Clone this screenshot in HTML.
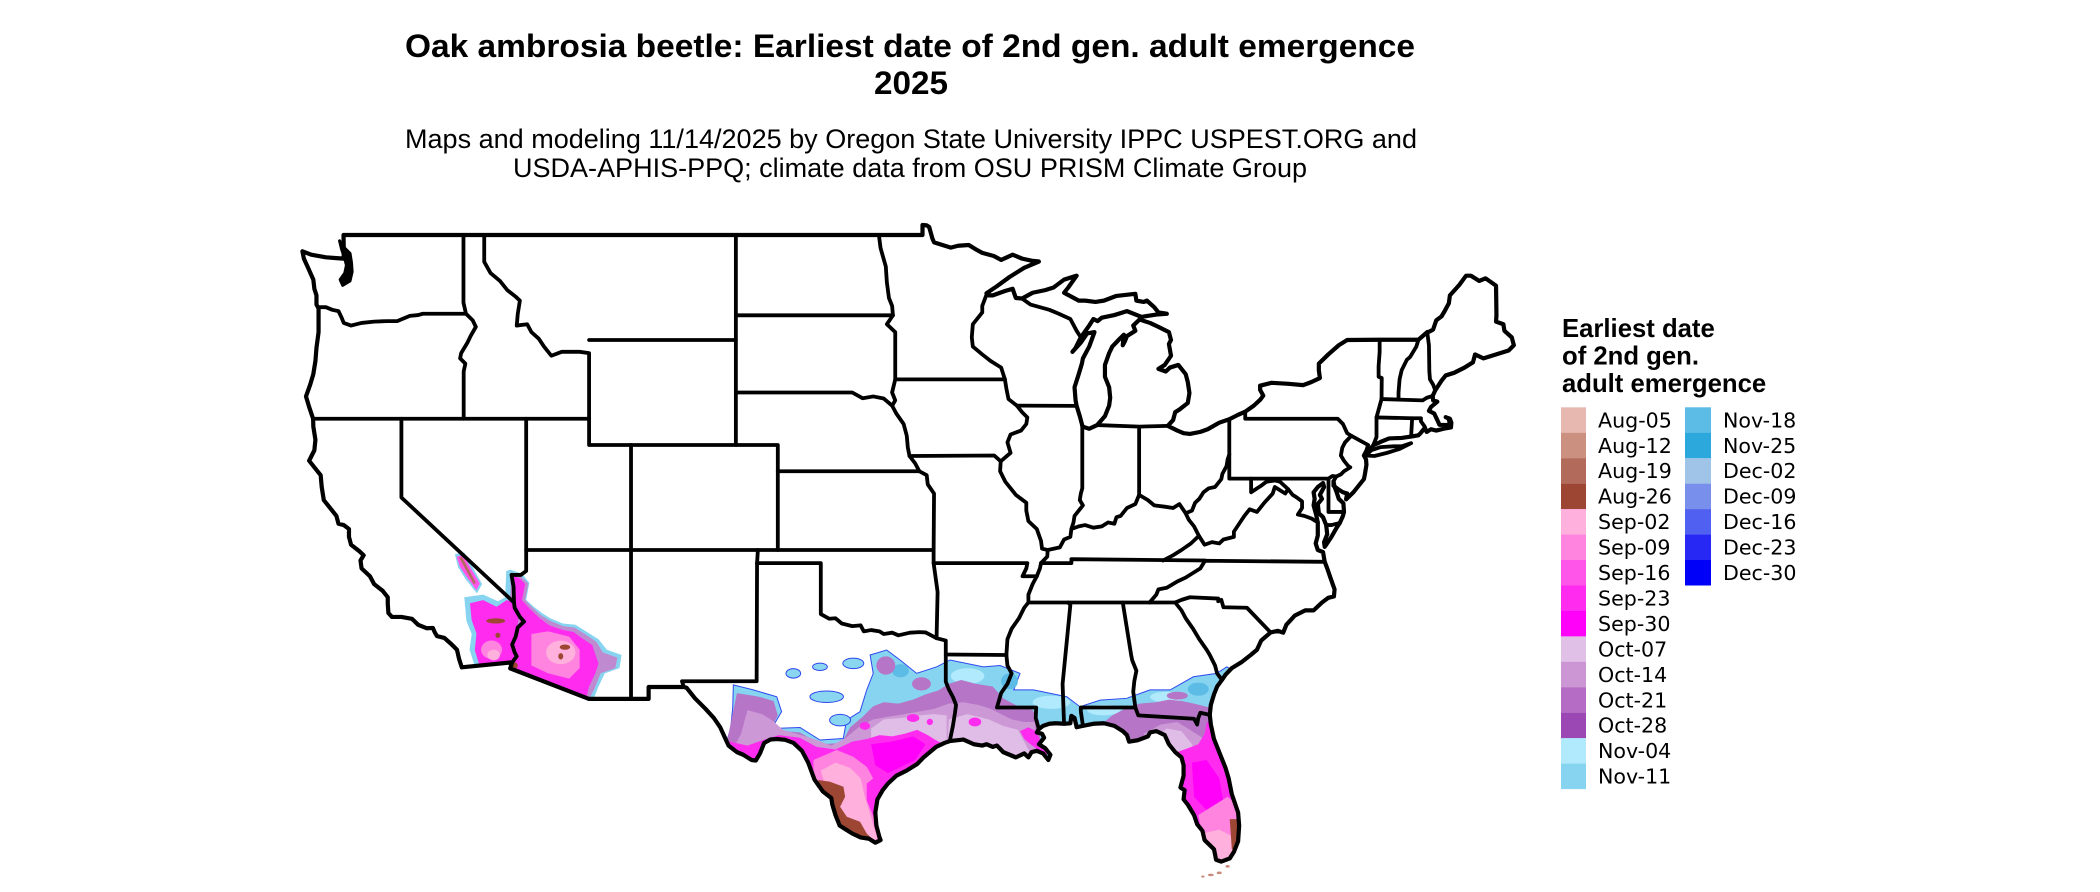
<!DOCTYPE html>
<html><head><meta charset="utf-8"><style>
html,body{margin:0;padding:0;background:#fff;width:2100px;height:892px;overflow:hidden}
svg{display:block}
.t{font-family:"Liberation Sans",Arial,sans-serif;fill:#000}
.lg{font-family:"DejaVu Sans","Liberation Sans",sans-serif;font-size:20.6px;fill:#000}
.b{fill:none;stroke:#000;stroke-width:3.8;stroke-linejoin:round;stroke-linecap:round}
</style></head><body>
<svg width="2100" height="892" viewBox="0 0 2100 892" xmlns="http://www.w3.org/2000/svg">
<rect width="2100" height="892" fill="#fff"/>
<text class="t" x="405" y="57" font-size="32" font-weight="bold" textLength="1010" lengthAdjust="spacingAndGlyphs">Oak ambrosia beetle: Earliest date of 2nd gen. adult emergence</text>
<text class="t" x="874" y="94" font-size="32" font-weight="bold" textLength="74" lengthAdjust="spacingAndGlyphs">2025</text>
<text class="t" x="405" y="148" font-size="27" textLength="1012" lengthAdjust="spacingAndGlyphs">Maps and modeling 11/14/2025 by Oregon State University IPPC USPEST.ORG and</text>
<text class="t" x="513" y="177" font-size="27" textLength="794" lengthAdjust="spacingAndGlyphs">USDA-APHIS-PPQ; climate data from OSU PRISM Climate Group</text>

<defs>
<path id="o" vector-effect="non-scaling-stroke" d="M-122.76,49 L-95.15,49 -95.15,49.38 -94.95,49.37 -94.83,49.3 -94.68,48.87 -94.6,48.72 -93.8,48.52 -93.45,48.59 -92.95,48.62 -92.6,48.45 -92.3,48.32 -91.75,48.2 -91.4,48.05 -90.85,48.25 -90.4,48.1 -89.95,48.02 -89.6,47.99 -90.3,47.75 -91.0,47.4 -91.6,47.05 -92.1,46.78 -92.0,46.7 -91.8,46.7 -91.2,46.87 -90.85,46.95 -90.7,46.6 -90.4,46.58 -89.9,46.8 -89.3,46.9 -88.9,47.0 -88.4,47.3 -87.8,47.45 -88.2,47.0 -88.4,46.8 -87.7,46.5 -87.4,46.5 -86.9,46.45 -86.5,46.5 -85.9,46.68 -85.0,46.76 -84.95,46.5 -84.6,46.45 -84.45,46.5 -84.1,46.25 -83.9,46.05 -83.5,46.0 -84.0,45.97 -84.7,45.88 -85.4,46.1 -86.0,45.95 -86.6,45.85 -86.8,45.72 -87.0,45.8 -87.2,45.55 -87.6,45.1 -87.85,44.7 -88.0,44.55 -87.6,44.9 -87.3,45.25 -86.95,45.3 -87.2,44.75 -87.5,44.3 -87.55,44.1 -87.7,43.7 -87.9,43.2 -87.85,42.7 -87.8,42.49 -87.65,42.1 -87.55,41.8 -87.52,41.7 -87.2,41.62 -86.82,41.76 -86.45,42.1 -86.25,42.5 -86.2,42.8 -86.25,43.2 -86.45,43.6 -86.45,44.05 -86.25,44.5 -86.1,44.75 -85.8,45.0 -85.55,45.2 -85.6,44.8 -85.5,44.95 -85.4,45.15 -85.0,45.35 -85.1,45.55 -84.8,45.78 -84.3,45.65 -83.9,45.5 -83.4,45.3 -83.3,45.0 -83.4,44.85 -83.3,44.4 -83.6,44.05 -83.9,43.9 -83.55,43.8 -83.35,43.95 -82.95,44.05 -82.6,43.7 -82.5,43.4 -82.42,42.98 -82.5,42.6 -82.9,42.35 -83.1,42.25 -83.2,41.95 -83.45,41.73 -83.0,41.55 -82.7,41.45 -82.4,41.42 -81.9,41.5 -81.55,41.6 -81.0,41.85 -80.52,41.98 -80.1,42.15 -79.76,42.27 -79.35,42.5 -79.05,42.72 -78.9,42.88 -79.05,43.1 -79.05,43.26 -78.5,43.37 -77.7,43.33 -77.0,43.28 -76.6,43.4 -76.2,43.55 -76.25,43.85 -76.25,44.1 -75.8,44.45 -75.3,44.8 -74.9,45.0 -73.35,45.01 -71.5,45.01 -71.08,45.3 -70.95,45.33 -70.8,45.4 -70.65,45.75 -70.4,45.9 -70.25,46.1 -70.05,46.4 -70.0,46.7 -69.55,47.1 -69.23,47.45 -69.0,47.45 -68.6,47.25 -68.3,47.35 -67.8,47.07 -67.78,45.95 -67.8,45.7 -67.45,45.6 -67.4,45.35 -67.05,45.1 -66.95,44.8 -67.2,44.6 -67.6,44.5 -68.0,44.4 -68.4,44.3 -68.8,44.45 -68.9,44.15 -69.3,43.95 -69.8,43.75 -70.2,43.65 -70.4,43.45 -70.7,43.08 -70.82,42.87 -70.8,42.7 -70.6,42.65 -70.9,42.45 -71.0,42.3 -70.75,42.2 -70.6,41.95 -70.5,41.77 -70.0,41.76 -70.05,42.0 -70.2,42.06 -70.0,42.0 -69.93,41.85 -69.95,41.67 -70.3,41.62 -70.65,41.55 -70.9,41.6 -71.1,41.5 -71.2,41.65 -71.4,41.45 -71.5,41.37 -71.85,41.32 -72.3,41.27 -72.9,41.25 -73.3,41.12 -73.65,40.99 -73.8,40.85 -74.0,40.75 -74.1,40.6 -74.0,40.45 -73.98,40.25 -74.05,39.9 -74.1,39.7 -74.4,39.4 -74.6,39.2 -74.95,38.93 -74.9,39.15 -75.1,39.2 -75.3,39.3 -75.55,39.45 -75.55,39.62 -75.5,39.4 -75.4,39.2 -75.3,38.95 -75.08,38.78 -75.05,38.45 -75.1,38.3 -75.25,38.03 -75.4,37.85 -75.65,37.5 -75.9,37.2 -75.97,37.12 -76.0,37.3 -75.85,37.6 -75.9,37.95 -76.05,38.25 -76.25,38.4 -76.3,38.75 -76.1,38.95 -76.2,39.1 -76.0,39.4 -76.05,39.55 -76.3,39.4 -76.5,39.2 -76.45,38.95 -76.5,38.7 -76.38,38.35 -76.3,38.05 -76.3,37.85 -76.3,37.55 -76.4,37.25 -76.3,37.0 -76.05,36.92 -75.97,36.55 -75.85,36.3 -75.7,35.95 -75.5,35.5 -75.53,35.23 -75.8,35.18 -76.1,35.0 -76.5,34.7 -76.9,34.7 -77.4,34.5 -77.8,34.15 -77.95,33.85 -78.2,33.92 -78.55,33.86 -79.0,33.55 -79.2,33.2 -79.5,33.0 -79.95,32.72 -80.4,32.5 -80.7,32.25 -80.87,32.05 -81.1,31.8 -81.25,31.5 -81.4,31.1 -81.45,30.72 -81.4,30.35 -81.25,29.8 -81.0,29.3 -80.7,28.7 -80.55,28.3 -80.4,27.7 -80.1,27.0 -80.05,26.5 -80.1,25.9 -80.3,25.5 -80.5,25.25 -80.9,25.13 -81.15,25.2 -81.25,25.6 -81.7,25.95 -81.8,26.3 -82.05,26.55 -82.2,26.9 -82.5,27.3 -82.7,27.5 -82.65,27.85 -82.85,27.95 -82.7,28.4 -82.7,28.8 -82.8,29.1 -83.1,29.3 -83.4,29.6 -83.6,29.95 -84.0,30.1 -84.3,30.05 -84.4,29.9 -84.9,29.75 -85.3,29.7 -85.4,29.95 -85.6,30.1 -86.0,30.3 -86.5,30.4 -87.0,30.38 -87.5,30.3 -87.8,30.25 -87.9,30.6 -88.05,30.68 -88.1,30.4 -88.4,30.38 -88.8,30.4 -89.1,30.38 -89.4,30.3 -89.6,30.18 -89.7,30.05 -89.45,30.0 -89.35,29.85 -89.6,29.6 -89.3,29.45 -89.05,29.2 -89.15,29.0 -89.4,29.25 -89.7,29.35 -89.95,29.3 -90.1,29.1 -90.3,29.25 -90.7,29.1 -91.0,29.2 -91.3,29.3 -91.6,29.55 -91.8,29.5 -92.1,29.6 -92.3,29.55 -92.7,29.6 -93.2,29.78 -93.85,29.72 -94.1,29.65 -94.5,29.5 -94.8,29.3 -95.1,29.1 -95.4,28.85 -95.9,28.6 -96.4,28.4 -96.8,28.1 -97.05,27.85 -97.3,27.5 -97.4,27.0 -97.35,26.5 -97.2,26.05 -97.15,25.95 -97.4,25.85 -97.7,26.0 -98.1,26.05 -98.5,26.2 -98.8,26.35 -99.1,26.5 -99.3,26.9 -99.45,27.3 -99.5,27.55 -99.9,27.8 -100.3,28.25 -100.6,28.9 -100.9,29.35 -101.3,29.65 -101.7,29.77 -102.1,29.8 -102.4,29.78 -102.7,29.65 -102.9,29.25 -103.1,28.98 -103.3,29.0 -103.7,29.2 -104.0,29.3 -104.4,29.55 -104.6,29.9 -104.8,30.25 -105.1,30.6 -105.5,30.95 -106.0,31.35 -106.4,31.75 -106.53,31.78 -108.21,31.78 -108.21,31.33 -111.07,31.33 -114.81,32.49 -114.72,32.72 -117.12,32.53 -117.25,32.85 -117.35,33.2 -117.6,33.4 -117.95,33.65 -118.3,33.72 -118.4,33.85 -118.5,34.03 -118.8,34.02 -119.2,34.15 -119.5,34.38 -120.0,34.45 -120.45,34.45 -120.62,34.6 -120.65,34.95 -120.65,35.2 -120.9,35.45 -121.3,35.7 -121.5,36.0 -121.9,36.3 -121.95,36.6 -121.8,36.8 -122.0,36.95 -122.4,37.2 -122.5,37.5 -122.5,37.8 -122.75,37.95 -123.0,38.0 -123.1,38.3 -123.7,38.9 -123.8,39.4 -123.85,39.85 -124.1,40.1 -124.4,40.4 -124.15,40.8 -124.1,41.2 -124.2,41.7 -124.21,42.0 -124.4,42.45 -124.55,42.85 -124.35,43.3 -124.2,43.7 -124.1,44.2 -124.05,44.7 -123.95,45.3 -123.95,45.7 -123.95,46.2 -124.05,46.35 -124.05,46.7 -124.15,46.95 -124.2,47.3 -124.45,47.75 -124.65,48.1 -124.72,48.38 -124.3,48.25 -123.6,48.15 -123.1,48.12 -122.75,48.1 -122.75,48.5 Z"/>
<clipPath id="us"><use href="#o"/></clipPath>
</defs>

<g transform="matrix(20.97 0 0 -26.25 2917.8 1521.25)">
<g clip-path="url(#us)">
<!-- cyan fringe -->
<polygon fill="#86d4f0" stroke="#2f48f0" stroke-width="1" vector-effect="non-scaling-stroke" points="-104.6,29.4 -104.3,30.2 -104.2,31.0 -104.17,31.86 -103.22,31.67 -102.1,31.41 -101.87,30.84 -102.34,30.2 -100.99,30.24 -100.04,29.76 -98.93,29.82 -98.77,30.52 -98.13,30.84 -97.81,31.67 -97.5,32.3 -97.65,33.0 -96.86,33.19 -96.22,32.81 -95.43,32.3 -94.47,32.55 -93.84,32.81 -92.25,32.55 -91.45,32.6 -90.5,32.3 -90.8,31.67 -89.86,31.67 -88.27,31.41 -87.64,31.03 -86.68,31.28 -85.41,31.35 -84.3,31.67 -83.34,31.67 -82.23,32.17 -81.12,32.3 -80.64,32.55 -79.5,32 -79.5,24 -98,24 -105,28.5"/>
<g fill="#8ad6f0">
<ellipse cx="-101.31" cy="32.3" rx="0.35" ry="0.18" stroke="#2f48f0" stroke-width="1" vector-effect="non-scaling-stroke"/>
<ellipse cx="-100.04" cy="32.55" rx="0.35" ry="0.14" stroke="#2f48f0" stroke-width="1" vector-effect="non-scaling-stroke"/>
<ellipse cx="-98.45" cy="32.68" rx="0.5" ry="0.2" stroke="#2f48f0" stroke-width="1" vector-effect="non-scaling-stroke"/>
<ellipse cx="-99.72" cy="31.41" rx="0.8" ry="0.22" stroke="#2f48f0" stroke-width="1" vector-effect="non-scaling-stroke"/>
<ellipse cx="-99.08" cy="30.52" rx="0.5" ry="0.22" stroke="#2f48f0" stroke-width="1" vector-effect="non-scaling-stroke"/>
</g>
<g fill="#b0eafc">
<ellipse cx="-93.0" cy="32.2" rx="0.8" ry="0.3"/>
<ellipse cx="-89.0" cy="31.2" rx="0.9" ry="0.25"/>
<ellipse cx="-86.5" cy="30.9" rx="0.8" ry="0.2"/>
<ellipse cx="-83.5" cy="31.4" rx="0.8" ry="0.2"/>
</g>
<g fill="#5cbce6">
<ellipse cx="-91.0" cy="32.0" rx="0.4" ry="0.3"/>
<ellipse cx="-82.0" cy="31.7" rx="0.5" ry="0.25"/>
<ellipse cx="-96.2" cy="32.4" rx="0.4" ry="0.25"/>
</g>
<!-- purple -->
<g fill="#b675c6">
<polygon points="-104.8,28.5 -104.4,30.0 -104.0,31.55 -103.0,31.42 -102.25,31.25 -102.05,30.7 -102.4,30.15 -101.0,30.05 -100.0,29.6 -99.0,29.65 -98.6,30.25 -98.0,30.65 -97.5,31.05 -97.0,31.2 -96.3,31.15 -95.6,31.3 -95.0,31.5 -94.4,31.65 -93.9,31.9 -93.3,32.05 -92.6,31.9 -91.8,31.8 -91.3,31.35 -90.6,31.05 -89.9,30.9 -89.6,30.5 -89.4,28.5"/>
<polygon points="-86.7,30.3 -86.1,30.7 -85.5,30.95 -84.8,31.15 -84.0,31.2 -83.4,31.3 -82.8,31.25 -82.2,31.15 -81.7,31.05 -81.2,30.95 -80.5,30.5 -80.5,27 -84,27 -85.5,29.5"/>
<ellipse cx="-96.9" cy="32.6" rx="0.45" ry="0.35"/>
<ellipse cx="-95.2" cy="31.9" rx="0.45" ry="0.25"/>
<ellipse cx="-83.0" cy="31.45" rx="0.5" ry="0.15"/>
</g>
<!-- lavender -->
<g fill="#cc98d6">
<polygon points="-104.8,28.5 -103.8,30.0 -103.5,30.9 -102.8,30.75 -102.3,30.5 -101.8,30.15 -100.5,29.85 -99.5,29.55 -98.8,29.85 -98.2,30.25 -97.5,30.55 -96.8,30.65 -96.0,30.75 -95.3,30.85 -94.6,30.95 -93.9,31.15 -93.2,31.2 -92.5,31.1 -91.9,30.95 -91.4,30.75 -90.9,30.55 -90.3,30.45 -89.8,30.45 -89.5,28.5"/>
<polygon points="-84.6,30.0 -83.8,30.35 -83.0,30.45 -82.3,30.1 -81.8,29.85 -81.0,29.6 -80.5,27 -84,27"/>
</g>
<g fill="#dfbde6">
<polygon points="-94.0,28.5 -93.9,30.55 -93.0,30.75 -92.0,30.55 -91.3,30.3 -90.6,30.15 -89.5,28.5"/>
<polygon points="-97.6,30.2 -97.0,30.55 -96.2,30.6 -95.3,30.7 -94.6,30.75 -94.0,30.7 -94.0,29.5 -97.6,29.5"/>
<polygon points="-84.2,29.8 -83.5,30.2 -82.8,30.1 -82.3,29.6 -82.0,28.9 -82.8,28.5"/>
</g>
<!-- magenta -->
<g fill="#ff2cf0">
<polygon points="-104.8,28.5 -104.6,29.75 -103.5,29.55 -102.8,29.75 -102.0,29.95 -101.0,29.85 -100.2,29.5 -99.3,29.4 -98.5,29.7 -97.8,29.8 -97.2,29.95 -96.6,29.9 -96.0,30.0 -95.4,30.15 -94.9,29.95 -94.5,29.75 -94.0,29.55 -94.0,27 -100,25"/>
<polygon points="-83.0,29.3 -82.5,29.45 -82.0,29.6 -81.7,30.0 -81.6,30.4 -81.35,30.65 -80.0,30.5 -79.5,25 -82.5,24.9 -83.5,28.0"/>
<ellipse cx="-92.65" cy="30.45" rx="0.3" ry="0.17"/>
<polygon points="-90.5,30.1 -90.1,30.25 -89.75,30.1 -89.5,29.7 -89.2,29.2 -89.5,29.3 -90.0,29.6 -90.3,29.8"/>
<ellipse cx="-95.6" cy="30.6" rx="0.3" ry="0.15"/>
<ellipse cx="-94.8" cy="30.45" rx="0.15" ry="0.12"/>
<ellipse cx="-97.9" cy="30.3" rx="0.25" ry="0.15"/>
</g>
<g fill="#ff00f8">
<polygon points="-97.6,29.6 -96.6,29.7 -95.6,29.9 -95.0,29.6 -95.5,29.0 -96.8,28.5 -97.4,28.8"/>
<polygon points="-82.3,28.9 -81.6,29.0 -81.0,28.3 -80.8,27.4 -81.5,27.0 -82.2,27.6"/>
</g>
<!-- pinks -->
<g fill="#ff84e0">
<polygon points="-100.35,29.0 -99.24,29.38 -98.44,29.12 -97.81,28.74 -97.5,28.3 -97.81,28.1 -97.81,27.47 -97.49,26.84 -97.17,25.95 -97.81,25.82 -98.76,26.2 -99.72,27.47 -100.35,28.24"/>
<polygon points="-82.0,26.9 -81.2,27.3 -80.6,27.6 -80.0,27.2 -80.0,25.0 -81.5,25.0"/>
</g>
<g fill="#ffb0dc">
<polygon points="-100.0,28.6 -99.3,28.9 -98.6,28.7 -98.1,28.3 -97.9,27.6 -97.6,26.8 -97.3,26.0 -97.8,25.85 -98.7,26.3 -99.6,27.5"/>
<polygon points="-81.8,26.2 -81.0,26.35 -80.4,26.1 -80.0,25.0 -81.3,24.9"/>
</g>
<g fill="#9c4633">
<polygon points="-100.11,28.24 -99.56,28.17 -98.92,27.98 -98.84,27.6 -99.08,27.22 -98.76,26.84 -98.13,26.65 -97.81,26.2 -97.49,25.95 -97.5,25.5 -100.5,27.5"/>
<polygon points="-80.5,26.75 -80.0,26.75 -80.0,25.6 -80.4,25.6 -80.45,26.2"/>
</g>
<!-- AZ / CA -->
<g fill="#86d4f0">
<polygon points="-114.8,36.25 -114.25,36.1 -113.9,35.75 -114.05,35.1 -113.7,34.85 -113.3,34.6 -112.9,34.4 -112.3,34.2 -111.7,34.15 -111.2,33.9 -110.6,33.6 -110.2,33.2 -109.5,33.0 -109.6,32.5 -110.3,32.3 -110.6,31.8 -110.9,31.2 -115.2,32.2 -115.0,36.2"/>
<polygon points="-117.0,35.2 -116.1,35.3 -115.4,35.05 -114.8,35.3 -114.4,34.5 -114.7,32.4 -116.45,32.45 -116.75,33.2 -116.65,33.8 -116.9,34.3"/>
<polygon points="-117.45,36.85 -117.0,36.9 -116.6,36.35 -116.15,35.7 -116.4,35.35 -116.95,35.9 -117.3,36.35"/>
</g>
<g fill="#c08ad0">
<polygon points="-114.75,36.15 -114.3,36.0 -113.95,35.72 -114.1,35.1 -113.8,34.85 -113.35,34.52 -112.9,34.3 -112.3,34.1 -111.75,34.05 -111.25,33.8 -110.7,33.5 -110.4,33.1 -109.7,32.9 -109.8,32.5 -110.5,32.3 -110.8,31.7 -111.1,31.25 -115,32.3"/>
</g>
<g fill="#ff2cf0">
<polygon points="-114.74,36.05 -114.35,35.92 -114.1,35.7 -114.25,35.09 -113.9,34.78 -113.4,34.4 -112.92,34.12 -112.28,33.95 -111.8,33.88 -111.35,33.62 -110.9,33.38 -110.75,33.02 -110.6,32.68 -110.75,32.3 -111.05,31.8 -111.2,31.3 -114.9,32.4 -114.7,33.0 -114.5,33.9 -114.3,34.4 -114.6,35.0 -114.8,35.8"/>
<polygon points="-116.73,34.97 -116.1,35.09 -115.46,34.84 -114.98,35.09 -114.6,35.0 -114.4,34.5 -114.5,33.9 -114.7,33.4 -114.6,33.0 -114.72,32.72 -114.74,32.55 -116.26,32.55 -116.5,33.19 -116.42,33.82 -116.65,34.33"/>
</g>
<g fill="#ff55e8">
<polygon points="-117.37,36.75 -117.05,36.81 -116.73,36.36 -116.26,35.73 -116.42,35.47 -116.89,35.98 -117.21,36.36"/>
</g>
<g fill="#ff84e0">
<polygon points="-113.8,33.8 -113.0,33.9 -112.0,33.7 -111.5,33.2 -111.5,32.5 -112.0,32.1 -113.0,32.3 -113.8,32.6"/>
<ellipse cx="-115.7" cy="33.2" rx="0.5" ry="0.35"/>
</g>
<g fill="#ffb0dc">
<ellipse cx="-112.4" cy="33.1" rx="0.7" ry="0.45"/>
<ellipse cx="-115.6" cy="33.0" rx="0.3" ry="0.2"/>
</g>
<g fill="#9c4633">
<ellipse cx="-112.2" cy="33.3" rx="0.25" ry="0.1"/>
<ellipse cx="-112.4" cy="32.95" rx="0.12" ry="0.12"/>
<ellipse cx="-114.6" cy="32.6" rx="0.15" ry="0.12"/>
<ellipse cx="-115.5" cy="34.3" rx="0.45" ry="0.1"/>
<ellipse cx="-115.4" cy="33.75" rx="0.12" ry="0.1"/>
</g>
<polygon fill="#b26a5a" points="-117.25,36.72 -117.1,36.72 -116.45,35.75 -116.55,35.7"/>
</g>
<!-- keys -->
<g fill="#c88a7a">
<ellipse cx="-81.4" cy="24.62" rx="0.14" ry="0.05"/>
<ellipse cx="-81.0" cy="24.7" rx="0.12" ry="0.05"/>
<ellipse cx="-80.6" cy="24.95" rx="0.1" ry="0.05"/>
<ellipse cx="-81.78" cy="24.56" rx="0.08" ry="0.04"/>
</g>

<!-- borders -->
<use href="#o" fill="none" stroke="#000" stroke-width="4.2" stroke-linejoin="round"/>
<g class="b">
<path vector-effect="non-scaling-stroke" d="M-123.95,46.25 L-123.6,46.25 -123.3,46.15 -123.0,46.1 -122.85,45.85 -122.75,45.65 -122.4,45.55 -121.9,45.65 -121.3,45.7 -120.7,45.72 -120.2,45.72 -119.6,45.92 -119.2,45.95 -118.98,46.0 -116.92,46.0"/>
<path vector-effect="non-scaling-stroke" d="M-117.04,49 L-117.04,46.42 -116.92,46.0 -116.6,45.75 -116.45,45.5 -116.7,45.15 -116.85,44.9 -117.15,44.5 -117.2,44.3 -116.95,44.1 -117.03,43.8 -117.03,42.0"/>
<path vector-effect="non-scaling-stroke" d="M-124.21,42 L-111.05,42"/>
<path vector-effect="non-scaling-stroke" d="M-120,42 L-120,39 -114.63,35 -114.6,34.8 -114.35,34.45 -114.15,34.27 -114.45,34.05 -114.55,33.7 -114.72,33.4 -114.6,33.1 -114.5,32.95 -114.72,32.72"/>
<path vector-effect="non-scaling-stroke" d="M-114.05,42 L-114.05,36.2 -114.3,36.05 -114.75,36.05 -114.65,35.6 -114.63,35"/>
<path vector-effect="non-scaling-stroke" d="M-114.05,37 L-94.62,37"/>
<path vector-effect="non-scaling-stroke" d="M-109.05,41 L-109.05,31.33"/>
<path vector-effect="non-scaling-stroke" d="M-116.05,49 L-116.05,47.98 -115.75,47.55 -115.3,47.25 -114.95,46.9 -114.55,46.65 -114.35,46.5 -114.45,46.0 -114.5,45.55 -114.0,45.6 -113.8,45.3 -113.45,45.05 -113.2,44.75 -112.85,44.4 -112.35,44.55 -111.5,44.55 -111.05,44.5 -111.05,41 -102.05,41 -102.05,37"/>
<path vector-effect="non-scaling-stroke" d="M-111.05,45 L-104.05,45"/>
<path vector-effect="non-scaling-stroke" d="M-104.05,49 L-104.05,41"/>
<path vector-effect="non-scaling-stroke" d="M-104.05,45.94 L-96.56,45.94"/>
<path vector-effect="non-scaling-stroke" d="M-104.05,43 L-98.5,43 -98.0,42.78 -97.5,42.85 -97.0,42.77 -96.6,42.5"/>
<path vector-effect="non-scaling-stroke" d="M-97.23,49 L-97.15,48.5 -96.9,47.8 -96.85,47.2 -96.75,46.6 -96.6,46.3 -96.56,45.94 -96.85,45.6 -96.45,45.3 -96.45,43.5 -96.6,43.0 -96.45,42.7 -96.6,42.5"/>
<path vector-effect="non-scaling-stroke" d="M-96.45,43.5 L-91.22,43.5"/>
<path vector-effect="non-scaling-stroke" d="M-96.6,42.5 L-96.4,42.2 -96.05,41.8 -95.9,41.35 -95.85,40.9 -95.77,40.58 -95.5,40.3 -95.3,40.0 -94.95,39.85 -94.9,39.5 -94.6,39.15 -94.62,37 -94.62,36.5 -94.43,35.4 -94.48,33.64"/>
<path vector-effect="non-scaling-stroke" d="M-95.77,40.58 L-91.73,40.6 -91.42,40.38"/>
<path vector-effect="non-scaling-stroke" d="M-102.05,40 L-95.3,40"/>
<path vector-effect="non-scaling-stroke" d="M-94.62,36.5 L-90.15,36.5 -90.2,36.3 -90.38,36.0 -89.7,36.0"/>
<path vector-effect="non-scaling-stroke" d="M-92.1,46.72 L-92.3,46.3 -92.3,46.05 -92.75,45.6 -92.8,45.1 -92.75,44.75 -92.3,44.45 -91.9,44.2 -91.4,43.95 -91.22,43.5 -91.15,43.15 -91.05,42.75 -90.65,42.5 -90.4,42.25 -90.15,42.05 -90.2,41.8 -90.45,41.55 -90.95,41.4 -91.1,41.1 -90.95,40.7 -91.1,40.6 -91.42,40.38 -91.45,40.0 -91.2,39.6 -90.7,39.1 -90.45,38.95 -90.2,38.8 -90.2,38.5 -90.1,38.1 -89.7,37.8 -89.5,37.35 -89.45,37.05 -89.18,37.0 -89.2,36.75 -89.5,36.5 -89.55,36.3 -89.7,36.0 -89.9,35.7 -90.1,35.3 -90.1,35.0 -90.3,34.8 -90.55,34.4 -90.9,34.0 -91.1,33.6 -91.15,33.0 -91.1,32.6 -90.9,32.3 -91.1,31.9 -91.4,31.55 -91.6,31.0 -89.73,31.0 -89.75,30.6 -89.6,30.18"/>
<path vector-effect="non-scaling-stroke" d="M-94.04,33.02 L-91.15,33.0"/>
<path vector-effect="non-scaling-stroke" d="M-93.85,29.72 L-93.7,30.3 -93.6,30.8 -93.55,31.1 -93.7,31.4 -93.9,31.7 -94.04,31.99 -94.04,33.55 -94.48,33.64 -95.0,33.86 -95.3,33.87 -95.75,33.85 -96.3,33.75 -96.6,33.85 -97.0,33.8 -97.2,33.9 -97.6,33.95 -97.95,33.9 -98.1,34.13 -98.5,34.1 -99.0,34.2 -99.3,34.4 -99.6,34.38 -100.0,34.56 -100.0,36.5 -103.04,36.5 -103.06,32.0 -106.62,32.0 -106.53,31.78"/>
<path vector-effect="non-scaling-stroke" d="M-103.0,37 L-103.04,36.5"/>
<path vector-effect="non-scaling-stroke" d="M-87.53,41.76 L-87.53,39.35 -87.6,39.15 -87.65,38.9 -87.5,38.7 -87.9,38.3 -87.95,38.05 -88.05,37.8"/>
<path vector-effect="non-scaling-stroke" d="M-89.18,37.0 L-88.6,37.1 -88.4,37.4 -88.1,37.5 -88.05,37.8 -87.7,37.9 -87.4,37.95 -87.0,37.85 -86.6,37.9 -86.3,38.05 -86.0,38.0 -85.9,38.25 -85.7,38.3 -85.4,38.6 -85.0,38.75 -84.82,39.1 -84.4,38.9 -84.1,38.7 -83.6,38.65 -83.2,38.6 -82.9,38.75 -82.6,38.4 -82.3,38.5 -82.15,38.8 -81.95,38.95 -81.75,39.2 -81.5,39.35 -81.2,39.4 -80.9,39.7 -80.85,39.9 -80.65,40.2 -80.6,40.45 -80.52,40.64"/>
<path vector-effect="non-scaling-stroke" d="M-86.82,41.76 L-84.8,41.7 -83.45,41.73 M-84.82,41.7 L-84.82,39.1"/>
<path vector-effect="non-scaling-stroke" d="M-80.52,41.98 L-80.52,39.72 -75.79,39.72 -75.6,39.82 -75.42,39.8"/>
<path vector-effect="non-scaling-stroke" d="M-79.76,42.27 L-79.76,42.0 -75.35,42.0 -75.1,41.8 -74.9,41.45 -74.7,41.35 -75.0,41.1 -75.13,40.9 -75.2,40.6 -75.05,40.4 -74.85,40.2 -74.75,40.15 -75.05,40.0 -75.2,39.88 -75.42,39.8 -75.55,39.62"/>
<path vector-effect="non-scaling-stroke" d="M-74.7,41.35 L-73.9,41.0 -74.0,40.75"/>
<path vector-effect="non-scaling-stroke" d="M-75.79,39.72 L-75.79,38.45 -75.05,38.45"/>
<path vector-effect="non-scaling-stroke" d="M-75.25,38.03 L-75.65,37.95 -75.9,37.95"/>
<path vector-effect="non-scaling-stroke" d="M-76.3,38.05 L-76.6,38.2 -76.95,38.3 -77.25,38.35 -77.05,38.6 -77.05,38.85 -77.3,39.0 -77.5,39.1 -77.72,39.32 -78.1,39.6 -78.35,39.65 -78.75,39.6 -79.0,39.45 -79.48,39.2 -79.48,39.72"/>
<path vector-effect="non-scaling-stroke" d="M-77.72,39.32 L-77.85,39.15 -78.35,39.4 -78.45,39.15 -78.85,38.8 -79.2,38.45 -79.55,38.55 -79.8,38.3 -80.05,38.0 -80.3,37.7 -80.3,37.5 -80.8,37.4 -81.0,37.25 -81.35,37.3 -81.7,37.2 -81.97,37.54 -82.2,37.9 -82.45,38.15 -82.6,38.4"/>
<path vector-effect="non-scaling-stroke" d="M-81.97,37.54 L-82.35,37.25 -82.8,37.0 -83.2,36.8 -83.68,36.6"/>
<path vector-effect="non-scaling-stroke" d="M-81.68,36.6 L-88.05,36.65 -88.05,36.5 -89.5,36.5"/>
<path vector-effect="non-scaling-stroke" d="M-75.97,36.55 L-81.68,36.59 -81.9,36.3 -82.2,36.15 -82.6,35.95 -83.0,35.8 -83.5,35.56 -83.9,35.5 -84.0,35.3 -84.32,35.0"/>
<path vector-effect="non-scaling-stroke" d="M-83.1,35.0 L-90.1,35.0"/>
<path vector-effect="non-scaling-stroke" d="M-83.1,35.0 L-82.8,35.1 -82.4,35.2 -81.05,35.15 -81.05,35.05 -80.9,35.1 -80.8,34.82 -79.68,34.8 -78.55,33.86"/>
<path vector-effect="non-scaling-stroke" d="M-83.1,35.0 L-82.8,34.7 -82.6,34.4 -82.25,34.0 -81.95,33.6 -81.6,33.2 -81.45,33.0 -81.2,32.6 -81.1,32.3 -80.87,32.05"/>
<path vector-effect="non-scaling-stroke" d="M-85.6,35.0 L-85.2,33.0 -85.15,32.8 -84.95,32.4 -85.05,32.0 -85.1,31.6 -85.0,31.0 -84.86,30.7 -82.2,30.57 -82.05,30.35 -82.0,30.6 -81.9,30.8 -81.45,30.72"/>
<path vector-effect="non-scaling-stroke" d="M-85.0,31.0 L-87.6,31.0 -87.6,30.85 -87.5,30.3"/>
<path vector-effect="non-scaling-stroke" d="M-88.2,35.0 L-88.1,34.9 -88.47,31.9 -88.4,30.38"/>
<path vector-effect="non-scaling-stroke" d="M-90.65,42.5 L-87.8,42.49"/>
<path vector-effect="non-scaling-stroke" d="M-90.4,46.58 L-90.0,46.35 -89.1,46.15 -88.65,46.0 -88.1,45.8 -87.8,45.35 -87.6,45.1"/>
<path vector-effect="non-scaling-stroke" d="M-73.35,45.01 L-73.35,44.55 -73.4,44.0 -73.4,43.6 -73.25,43.55 -73.26,42.75"/>
<path vector-effect="non-scaling-stroke" d="M-71.5,45.01 L-71.6,44.75 -71.9,44.35 -72.05,44.25 -72.3,43.85 -72.4,43.5 -72.45,43.0 -72.45,42.73"/>
<path vector-effect="non-scaling-stroke" d="M-73.26,42.75 L-72.45,42.73 -71.3,42.7 -71.1,42.8 -70.82,42.87"/>
<path vector-effect="non-scaling-stroke" d="M-71.08,45.3 L-71.0,44.8 -70.98,43.8 -70.95,43.5 -70.8,43.3 -70.7,43.08"/>
<path vector-effect="non-scaling-stroke" d="M-73.26,42.75 L-73.5,42.05 -73.5,41.3 -73.65,41.0"/>
<path vector-effect="non-scaling-stroke" d="M-73.5,42.05 L-71.8,42.02 -71.38,42.02 -71.38,41.9 -71.2,41.7 -71.12,41.5"/>
<path vector-effect="non-scaling-stroke" d="M-71.8,42.02 L-71.85,41.32"/>
<path vector-effect="non-scaling-stroke" d="M-74.0,40.6 L-73.6,40.58 -73.0,40.7 -72.4,40.85 -71.85,41.07 -72.3,40.95 -72.7,40.95 -73.3,40.92 -73.75,40.8 Z"/>
</g>
<path fill="#000" stroke="#000" stroke-width="3" vector-effect="non-scaling-stroke" stroke-linejoin="round" d="M-122.95,48.78 L-122.7,48.5 -122.45,48.3 -122.38,47.95 -122.35,47.6 -122.45,47.25 -122.8,47.08 -122.92,47.3 -122.7,47.55 -122.62,47.85 -122.72,48.15 -122.85,48.45 Z"/>
</g>

<!-- legend -->
<g class="t" font-weight="bold" font-size="25.7">
<text x="1562" y="337">Earliest date</text>
<text x="1562" y="364.5">of 2nd gen.</text>
<text x="1562" y="392">adult emergence</text>
</g>
<g>
<rect x="1561" y="407.3" width="25" height="25.6" fill="#e6b8b0"/>
<rect x="1561" y="432.75" width="25" height="25.6" fill="#cc9080"/>
<rect x="1561" y="458.2" width="25" height="25.6" fill="#b26a5a"/>
<rect x="1561" y="483.65" width="25" height="25.6" fill="#9c4633"/>
<rect x="1561" y="509.1" width="25" height="25.6" fill="#ffb0dc"/>
<rect x="1561" y="534.55" width="25" height="25.6" fill="#ff84e0"/>
<rect x="1561" y="560.0" width="25" height="25.6" fill="#ff55e8"/>
<rect x="1561" y="585.45" width="25" height="25.6" fill="#ff2cf0"/>
<rect x="1561" y="610.9" width="25" height="25.6" fill="#ff00f8"/>
<rect x="1561" y="636.35" width="25" height="25.6" fill="#e0c0e6"/>
<rect x="1561" y="661.8" width="25" height="25.6" fill="#cc96d4"/>
<rect x="1561" y="687.25" width="25" height="25.6" fill="#b46cc4"/>
<rect x="1561" y="712.7" width="25" height="25.6" fill="#9c48b4"/>
<rect x="1561" y="738.15" width="25" height="25.6" fill="#b0eafc"/>
<rect x="1561" y="763.6" width="25" height="25.5" fill="#86d4f0"/>
<rect x="1685" y="407.3" width="26" height="25.6" fill="#5cbce6"/>
<rect x="1685" y="432.75" width="26" height="25.6" fill="#2ca8dc"/>
<rect x="1685" y="458.2" width="26" height="25.6" fill="#a0c4e8"/>
<rect x="1685" y="483.65" width="26" height="25.6" fill="#7890ec"/>
<rect x="1685" y="509.1" width="26" height="25.6" fill="#5060f0"/>
<rect x="1685" y="534.55" width="26" height="25.6" fill="#2828f4"/>
<rect x="1685" y="560.0" width="26" height="25.5" fill="#0000f8"/>
</g>
<g class="lg">
<text x="1598" y="427.3">Aug-05</text>
<text x="1598" y="452.75">Aug-12</text>
<text x="1598" y="478.2">Aug-19</text>
<text x="1598" y="503.65">Aug-26</text>
<text x="1598" y="529.1">Sep-02</text>
<text x="1598" y="554.55">Sep-09</text>
<text x="1598" y="580.0">Sep-16</text>
<text x="1598" y="605.45">Sep-23</text>
<text x="1598" y="630.9">Sep-30</text>
<text x="1598" y="656.35">Oct-07</text>
<text x="1598" y="681.8">Oct-14</text>
<text x="1598" y="707.25">Oct-21</text>
<text x="1598" y="732.7">Oct-28</text>
<text x="1598" y="758.15">Nov-04</text>
<text x="1598" y="783.6">Nov-11</text>
<text x="1723" y="427.3">Nov-18</text>
<text x="1723" y="452.75">Nov-25</text>
<text x="1723" y="478.2">Dec-02</text>
<text x="1723" y="503.65">Dec-09</text>
<text x="1723" y="529.1">Dec-16</text>
<text x="1723" y="554.55">Dec-23</text>
<text x="1723" y="580.0">Dec-30</text>
</g>
</svg>
</body></html>
